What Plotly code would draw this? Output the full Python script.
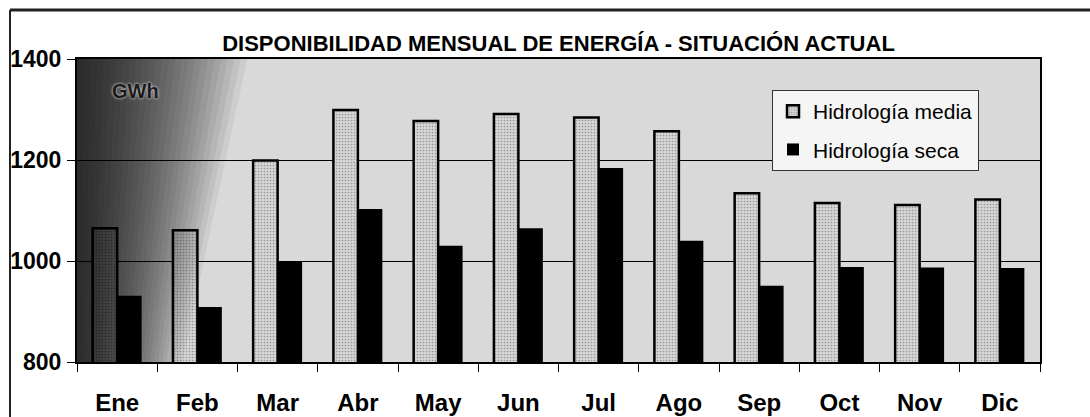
import plotly.graph_objects as go

meses = ["Ene", "Feb", "Mar", "Abr", "May", "Jun", "Jul", "Ago", "Sep", "Oct", "Nov", "Dic"]
hidrologia_media = [1065, 1061, 1199, 1299, 1277, 1291, 1284, 1257, 1134, 1115, 1111, 1122]
hidrologia_seca = [931, 909, 998, 1103, 1030, 1065, 1184, 1040, 951, 988, 987, 986]
y_ticks = [800, 1000, 1200, 1400]

W, H = 1090, 417
ML, MR, MT, MB = 77, 50, 59, 55
PW, PH = W - ML - MR, H - MT - MB

def px_x(x):
    return (x - ML) / PW

def px_y(y):
    return 1 - (y - MT) / PH

FONT = "Liberation Sans, Arial, sans-serif"

fig = go.Figure()
fig.add_trace(go.Bar(
    x=meses, y=hidrologia_media, name="Hidrología media",
    legendgroup="a",
    marker=dict(color="#c9c9c9", line=dict(color="black", width=2.5),
                pattern=dict(shape=".", fgcolor="#555555", bgcolor="#d6d6d6", size=3, solidity=0.25)),
))
fig.add_trace(go.Bar(
    x=meses, y=hidrologia_seca, name="Hidrología seca",
    legendgroup="b",
    marker=dict(color="black", line=dict(color="black", width=0)),
))

shapes = []
# dark shading at the left of the plot area (scanned gradient)
n = 26
for k in range(1, n + 1):
    wt = 0.0068 * k
    wb = 0.0042 * k
    shapes.append(dict(
        type="path", xref="paper", yref="paper",
        path=f"M 0,0 L {wb:.4f},0 L {wt:.4f},1 L 0,1 Z",
        fillcolor="black", opacity=0.055, line=dict(width=0), layer="above",
    ))
# outer frame (top and left lines)
shapes.append(dict(type="line", xref="paper", yref="paper",
                   x0=px_x(10), x1=px_x(W + 5), y0=px_y(10), y1=px_y(10),
                   line=dict(color="#222", width=3)))
shapes.append(dict(type="line", xref="paper", yref="paper",
                   x0=px_x(10), x1=px_x(10), y0=px_y(10), y1=px_y(H + 5),
                   line=dict(color="#222", width=2)))

fig.update_layout(
    width=W, height=H,
    margin=dict(l=ML, r=MR, t=MT, b=MB, autoexpand=False),
    paper_bgcolor="white",
    plot_bgcolor="#d9d9d9",
    barmode="group",
    bargap=0.39,
    bargroupgap=0,
    shapes=shapes,
    title=dict(
        text="DISPONIBILIDAD MENSUAL DE ENERGÍA - SITUACIÓN ACTUAL",
        x=0.5, xref="paper", xanchor="center",
        y=1 - 43 / H, yref="container", yanchor="middle",
        font=dict(family=FONT, size=22, color="black", weight="bold"),
    ),
    legend=dict(
        x=px_x(772), y=px_y(90), xanchor="left", yanchor="top",
        bgcolor="#f5f5f5", bordercolor="#333", borderwidth=1,
        font=dict(family=FONT, size=21, color="black"),
        tracegroupgap=8,
        itemwidth=30,
    ),
    showlegend=True,
    annotations=[dict(
        text="GWh", xref="paper", yref="paper",
        x=px_x(135), y=px_y(91), xanchor="center", yanchor="middle",
        showarrow=False,
        font=dict(family=FONT, size=20, color="#1a1a1a", weight="bold",
                  shadow="0px 0px 3px #ffffff"),
    )],
)

fig.update_xaxes(
    type="category",
    automargin=False,
    tickson="boundaries",
    ticks="outside", ticklen=8, tickcolor="black", tickwidth=1,
    showline=True, linecolor="black", linewidth=2, mirror=True,
    showgrid=False,
    tickfont=dict(family=FONT, size=24, color="black", weight="bold"),
    ticklabelstandoff=18,
)
fig.update_yaxes(
    automargin=False,
    range=[800, 1400],
    tickvals=y_ticks,
    ticktext=[str(v) for v in y_ticks],
    ticks="outside", ticklen=8, tickcolor="black",
    showline=True, linecolor="black", linewidth=2, mirror=True,
    showgrid=True, gridcolor="black", gridwidth=1,
    zeroline=False,
    tickfont=dict(family=FONT, size=23, color="black", weight="bold"),
    ticklabelstandoff=1,
)

fig.write_html("out.html",
               config={"displayModeBar": False},
               post_script="document.body.style.margin='0';document.body.style.overflow='hidden';")
